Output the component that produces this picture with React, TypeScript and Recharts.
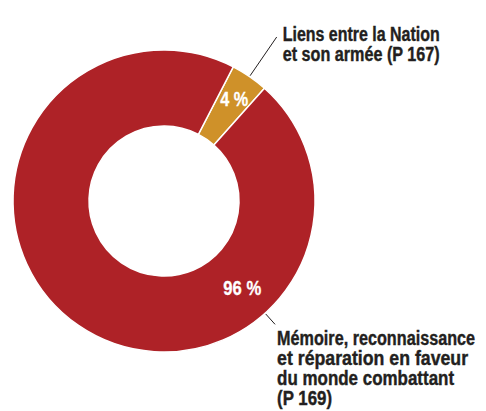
import React from 'react';
import { PieChart, Pie, Cell } from 'recharts';

const programmes = ['Liens entre la Nation et son armée (P 167)', 'Mémoire, reconnaissance et réparation en faveur du monde combattant (P 169)'];
const shares = [4, 96];
const calloutLines = [
  ['Liens entre la Nation', 'et son armée (P 167)'],
  ['Mémoire, reconnaissance', 'et réparation en faveur', 'du monde combattant', '(P 169)'],
];
const sliceColors = ['#CF9129', '#AE2227'];

const data = programmes.map((name, i) => ({ name, value: shares[i] }));

const RAD = Math.PI / 180;
// condensed look: squeeze a normal bold sans to the widths of the original
const FONT = '"Liberation Sans", Arial, sans-serif';
const lineWidths = [
  [157, 157],
  [198, 191, 177, 55],
];
const pctWidths = [28, 38];

// where each slice's percent + callout sit (red one is pinned bottom-right, not at its middle)
const labelAngle = [null, -48];
const pctRadius = [124, 117];
const lineEnd = [199, 166];
const textOffset = [
  { dx: 6, dy: 4 },
  { dx: 2, dy: 21 },
];

const renderLabel = (props: any) => {
  const { cx, cy, midAngle, outerRadius, index, value } = props;
  const ang = labelAngle[index] ?? midAngle;
  const cos = Math.cos(-ang * RAD);
  const sin = Math.sin(-ang * RAD);
  const px = cx + pctRadius[index] * cos;
  const py = cy + pctRadius[index] * sin;
  const x1 = cx + (outerRadius + 1) * cos;
  const y1 = cy + (outerRadius + 1) * sin;
  const x2 = cx + lineEnd[index] * cos;
  const y2 = cy + lineEnd[index] * sin;
  const off = textOffset[index];
  const tx = x2 + off.dx;
  return (
    <g key={`lbl-${index}`}>
      <text
        x={px}
        y={py + 7}
        fill="#fff"
        stroke="#fff"
        strokeWidth={0.3}
        textAnchor="middle"
        fontFamily={FONT}
        fontWeight="bold"
        fontSize={20}
        textLength={pctWidths[index]}
        lengthAdjust="spacingAndGlyphs"
      >
        {`${value} %`}
      </text>
      <line x1={x1} y1={y1} x2={x2} y2={y2} stroke="#231F20" strokeWidth={1} />
      {calloutLines[index].map((line, j) => (
        <text
          key={j}
          x={tx}
          y={y2 + off.dy + j * 20}
          fill="#231F20"
          stroke="#231F20"
          strokeWidth={0.4}
          fontFamily={FONT}
          fontWeight="bold"
          fontSize={19.5}
          textLength={lineWidths[index][j]}
          lengthAdjust="spacingAndGlyphs"
        >
          {line}
        </text>
      ))}
    </g>
  );
};

export default function App() {
  return (
    <div style={{ position: 'absolute', left: 0, top: 0, width: 486, height: 411, background: '#fff' }}>
      <PieChart width={486} height={411} margin={{ top: 0, right: 0, bottom: 0, left: 0 }}>
        <Pie
          data={data}
          dataKey="value"
          nameKey="name"
          cx={164}
          cy={201}
          innerRadius={75}
          outerRadius={151}
          startAngle={62.7}
          endAngle={-297.3}
          stroke="#fff"
          strokeWidth={1.5}
          label={renderLabel}
          labelLine={false}
          isAnimationActive={false}
        >
          {data.map((d, i) => (
            <Cell key={d.name} fill={sliceColors[i]} />
          ))}
        </Pie>
      </PieChart>
    </div>
  );
}
